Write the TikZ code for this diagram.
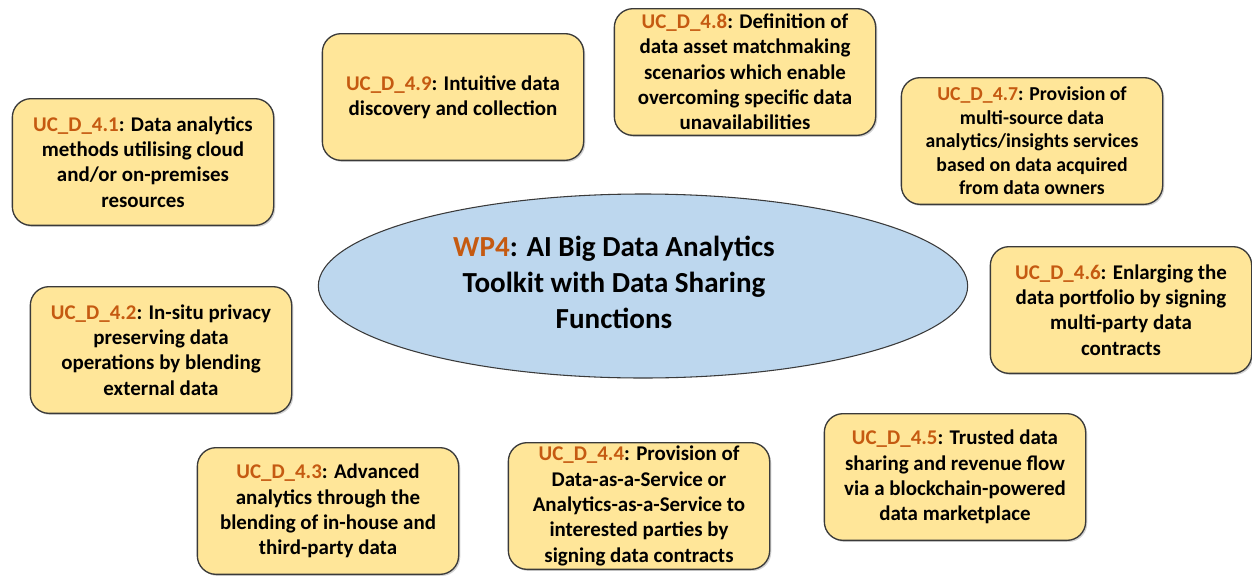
\documentclass[tikz,border=0pt]{standalone}
\usepackage{fontspec}
\setmainfont{Carlito}
\usetikzlibrary{shapes.geometric,shadows}
\definecolor{ucorange}{HTML}{C55A11}
\definecolor{ucfill}{HTML}{FFE699}
\definecolor{ucline}{HTML}{3A3A3A}
\definecolor{hubfill}{HTML}{BDD7EE}
\newcommand{\uctag}[1]{\textcolor{ucorange}{#1}}
\begin{document}
\begin{tikzpicture}[x=0.75pt,y=-0.75pt,
  ucbox/.style={draw=ucline, line width=1pt, fill=ucfill, rounded corners=14pt,
    minimum width=196pt, minimum height=95pt, inner sep=0pt,
    drop shadow={shadow xshift=1.2pt, shadow yshift=-1.2pt, opacity=0.35},
    align=center, font=\bfseries\fontsize{15.7}{19}\selectfont},
  hub/.style={ellipse, draw=ucline, line width=0.8pt, fill=hubfill,
    minimum width=487pt, minimum height=138pt, inner sep=0pt},
  hubtext/.style={align=center, font=\bfseries\fontsize{21.8}{27}\selectfont}]
\useasboundingbox (0,0) rectangle (1252,575);

% central work package
\node[hub] (wp) at (643,286) {};
\node[hubtext] (wptext) at (614,282)
  {\uctag{WP4}: AI Big Data Analytics\\Toolkit with Data Sharing\\Functions};

% use cases around it
\node[ucbox] (u41) at (143,162)
  {\uctag{UC\_D\_4.1}: Data analytics\\methods utilising cloud\\and/or on-premises\\resources};
\node[ucbox] (u49) at (453,97)
  {\uctag{UC\_D\_4.9}: Intuitive data\\discovery and collection};
\node[ucbox] (u48) at (745,72)
  {\uctag{UC\_D\_4.8}: Definition of\\data asset matchmaking\\scenarios which enable\\overcoming specific data\\unavailabilities};
\node[ucbox, font=\bfseries\fontsize{14.8}{17.6}\selectfont] (u47) at (1032,141)
  {\uctag{UC\_D\_4.7}: Provision of\\multi-source data\\analytics/insights services\\based on data acquired\\from data owners};
\node[ucbox] (u46) at (1121,310)
  {\uctag{UC\_D\_4.6}: Enlarging the\\data portfolio by signing\\multi-party data\\contracts};
\node[ucbox] (u45) at (955,477)
  {\uctag{UC\_D\_4.5}: Trusted data\\sharing and revenue flow\\via a blockchain-powered\\data marketplace};
\node[ucbox] (u44) at (639,506)
  {\uctag{UC\_D\_4.4}: Provision of\\Data-as-a-Service or\\Analytics-as-a-Service to\\interested parties by\\signing data contracts};
\node[ucbox] (u43) at (328,511)
  {\uctag{UC\_D\_4.3}: Advanced\\analytics through the\\blending of in-house and\\third-party data};
\node[ucbox] (u42) at (161,350)
  {\uctag{UC\_D\_4.2}: In-situ privacy\\preserving data\\operations by blending\\external data};
\end{tikzpicture}
\end{document}
